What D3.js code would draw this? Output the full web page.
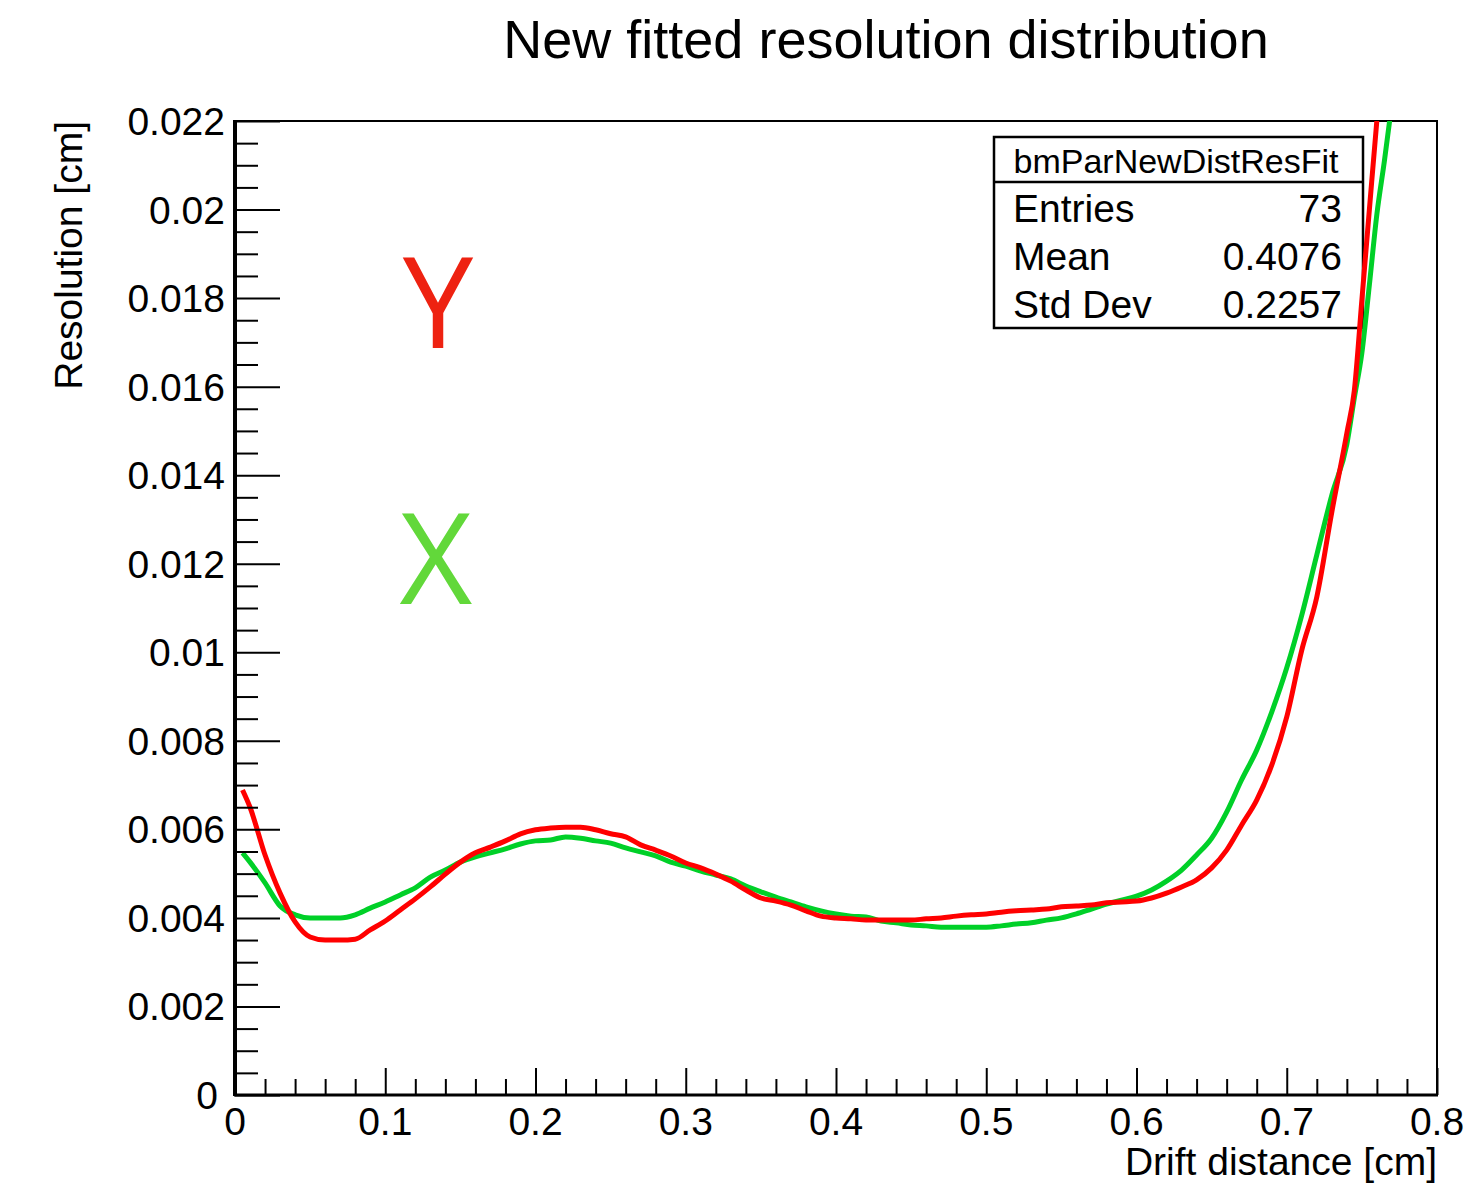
<!DOCTYPE html>
<html>
<head>
<meta charset="utf-8">
<script src="https://cdn.jsdelivr.net/npm/d3@7"></script>
<style>
  html, body { margin: 0; padding: 0; background: #fff; }
  svg { display: block; }
  text { font-family: "Liberation Sans", Arial, Helvetica, sans-serif; fill: #000; }
</style>
</head>
<body>
<svg id="chart" width="1480" height="1183"></svg>
<script>
// Drift distance sample points [cm]
const distance = [0.005, 0.01, 0.02, 0.03, 0.04, 0.05, 0.06, 0.07, 0.08, 0.09,
  0.10, 0.11, 0.12, 0.13, 0.14, 0.15, 0.16, 0.17, 0.18, 0.19,
  0.20, 0.21, 0.22, 0.23, 0.24, 0.25, 0.26, 0.27, 0.28, 0.29,
  0.30, 0.31, 0.32, 0.33, 0.34, 0.35, 0.36, 0.37, 0.38, 0.39,
  0.40, 0.41, 0.42, 0.43, 0.44, 0.45, 0.46, 0.47, 0.48, 0.49,
  0.50, 0.51, 0.52, 0.53, 0.54, 0.55, 0.56, 0.57, 0.58, 0.59,
  0.60, 0.61, 0.62, 0.63, 0.64, 0.65, 0.66, 0.67, 0.68, 0.69,
  0.70, 0.71, 0.72, 0.73, 0.74, 0.745, 0.75, 0.755, 0.76, 0.765, 0.77];

// Fitted resolution, Y view [cm]
const resolutionY = [0.00689, 0.00650, 0.00542, 0.00456, 0.00391, 0.00357, 0.00350, 0.00350, 0.00352, 0.00373,
  0.00393, 0.00418, 0.00443, 0.00470, 0.00499, 0.00526, 0.00547, 0.00560, 0.00574, 0.00590,
  0.00599, 0.00603, 0.00605, 0.00605, 0.00599, 0.00590, 0.00583, 0.00565, 0.00553, 0.00540,
  0.00524, 0.00513, 0.00499, 0.00483, 0.00463, 0.00445, 0.00438, 0.00429, 0.00416, 0.00404,
  0.00400, 0.00398, 0.00395, 0.00395, 0.00395, 0.00395, 0.00398, 0.00400, 0.00404, 0.00407,
  0.00409, 0.00413, 0.00416, 0.00418, 0.00420, 0.00425, 0.00427, 0.00429, 0.00434, 0.00436,
  0.00438, 0.00445, 0.00456, 0.00470, 0.00486, 0.00513, 0.00553, 0.00610, 0.00666, 0.00745,
  0.00854, 0.01005, 0.01125, 0.01317, 0.01495, 0.01592, 0.01796, 0.02000, 0.02202, 0.02380, 0.02560];

// Fitted resolution, X view [cm]
const resolutionX = [0.00547, 0.00526, 0.00479, 0.00427, 0.00407, 0.00400, 0.00400, 0.00400, 0.00407, 0.00422,
  0.00436, 0.00452, 0.00468, 0.00492, 0.00508, 0.00526, 0.00538, 0.00547, 0.00556, 0.00567,
  0.00574, 0.00576, 0.00583, 0.00580, 0.00574, 0.00569, 0.00558, 0.00549, 0.00540, 0.00526,
  0.00517, 0.00506, 0.00497, 0.00488, 0.00472, 0.00459, 0.00447, 0.00436, 0.00425, 0.00416,
  0.00409, 0.00404, 0.00402, 0.00393, 0.00389, 0.00384, 0.00382, 0.00379, 0.00379, 0.00379,
  0.00379, 0.00382, 0.00386, 0.00389, 0.00395, 0.00400, 0.00409, 0.00420, 0.00431, 0.00440,
  0.00449, 0.00463, 0.00483, 0.00508, 0.00542, 0.00580, 0.00639, 0.00712, 0.00779, 0.00865,
  0.00965, 0.01084, 0.01220, 0.01355, 0.01470, 0.01575, 0.01676, 0.01830, 0.01990, 0.02110, 0.02240];

const xTickValues = [0, 0.1, 0.2, 0.3, 0.4, 0.5, 0.6, 0.7, 0.8];
const xTickLabels = ["0", "0.1", "0.2", "0.3", "0.4", "0.5", "0.6", "0.7", "0.8"];
const yTickValues = [0, 0.002, 0.004, 0.006, 0.008, 0.01, 0.012, 0.014, 0.016, 0.018, 0.02, 0.022];
const yTickLabels = ["0", "0.002", "0.004", "0.006", "0.008", "0.01", "0.012", "0.014", "0.016", "0.018", "0.02", "0.022"];

const statsTitle = "bmParNewDistResFit";
const statsNames = ["Entries", "Mean", "Std Dev"];
const statsValues = ["73", "0.4076", "0.2257"];

const svg = d3.select("#chart");
const frame = { left: 235, right: 1437, top: 121, bottom: 1095 };

const x = d3.scaleLinear().domain([0, 0.8]).range([frame.left, frame.right]);
const y = d3.scaleLinear().domain([0, 0.022]).range([frame.bottom, frame.top]);

// Title
svg.append("text")
  .attr("x", 886).attr("y", 58)
  .attr("text-anchor", "middle")
  .style("font-size", "54px")
  .text("New fitted resolution distribution");

// Frame
svg.append("rect")
  .attr("x", frame.left).attr("y", frame.top)
  .attr("width", frame.right - frame.left)
  .attr("height", frame.bottom - frame.top)
  .attr("fill", "none").attr("stroke", "#000").attr("stroke-width", 2);

// Clip path for the curves
svg.append("clipPath").attr("id", "plotClip")
  .append("rect")
  .attr("x", frame.left).attr("y", frame.top)
  .attr("width", frame.right - frame.left)
  .attr("height", frame.bottom - frame.top);

// Statistics box
const box = svg.append("g");
box.append("rect")
  .attr("x", 994).attr("y", 137).attr("width", 369).attr("height", 191)
  .attr("fill", "#fff").attr("stroke", "#000").attr("stroke-width", 2.5);
box.append("line")
  .attr("x1", 994).attr("x2", 1363).attr("y1", 182).attr("y2", 182)
  .attr("stroke", "#000").attr("stroke-width", 2.5);
box.append("text")
  .attr("x", 1176).attr("y", 173).attr("text-anchor", "middle")
  .style("font-size", "34px")
  .text(statsTitle);
const rowBase = [222, 270, 318];
statsNames.forEach((name, i) => {
  box.append("text").attr("x", 1013).attr("y", rowBase[i])
    .style("font-size", "39px").text(name);
  box.append("text").attr("x", 1342).attr("y", rowBase[i])
    .attr("text-anchor", "end")
    .style("font-size", "39px").text(statsValues[i]);
});

// Curves
const line = d3.line()
  .x((d, i) => x(distance[i]))
  .y(d => y(d))
  .curve(d3.curveMonotoneX);

const curves = svg.append("g").attr("clip-path", "url(#plotClip)");
curves.append("path")
  .datum(resolutionX)
  .attr("d", line)
  .attr("fill", "none")
  .attr("stroke", "rgb(0,208,40)")
  .attr("stroke-width", 5);
curves.append("path")
  .datum(resolutionY)
  .attr("d", line)
  .attr("fill", "none")
  .attr("stroke", "rgb(255,0,0)")
  .attr("stroke-width", 5);

// Y axis: major and minor ticks
const yMinor = d3.range(0, 0.02201, 0.0005).filter(v => Math.abs(v / 0.002 - Math.round(v / 0.002)) > 1e-6);
const yMinorAxis = d3.axisRight(y).tickValues(yMinor).tickSize(23).tickFormat("");
const yMajorAxis = d3.axisRight(y).tickValues(yTickValues).tickSize(45).tickFormat("");
[yMinorAxis, yMajorAxis].forEach(ax => {
  const g = svg.append("g").attr("transform", `translate(${frame.left},0)`).call(ax);
  g.select(".domain").remove();
  g.selectAll(".tick line").attr("stroke", "#000").attr("stroke-width", 2);
});
svg.append("line")
  .attr("x1", frame.left).attr("x2", frame.left)
  .attr("y1", frame.top - 1).attr("y2", frame.bottom + 1)
  .attr("stroke", "#000").attr("stroke-width", 4);

yTickValues.forEach((v, i) => {
  svg.append("text")
    .attr("x", v === 0 ? 218 : 225)
    .attr("y", y(v))
    .attr("dy", "0.36em")
    .attr("text-anchor", "end")
    .style("font-size", "39px")
    .text(yTickLabels[i]);
});

// X axis: major and minor ticks
const xMinor = d3.range(0, 0.8001, 0.02).filter(v => Math.abs(v / 0.1 - Math.round(v / 0.1)) > 1e-6);
const xMinorAxis = d3.axisTop(x).tickValues(xMinor).tickSize(16).tickFormat("");
const xMajorAxis = d3.axisTop(x).tickValues(xTickValues).tickSize(27).tickFormat("");
[xMinorAxis, xMajorAxis].forEach(ax => {
  const g = svg.append("g").attr("transform", `translate(0,${frame.bottom})`).call(ax);
  g.select(".domain").remove();
  g.selectAll(".tick line").attr("stroke", "#000").attr("stroke-width", 2);
});
svg.append("line")
  .attr("x1", frame.left - 1).attr("x2", frame.right + 1)
  .attr("y1", frame.bottom).attr("y2", frame.bottom)
  .attr("stroke", "#000").attr("stroke-width", 3);

xTickValues.forEach((v, i) => {
  svg.append("text")
    .attr("x", x(v))
    .attr("y", 1135)
    .attr("text-anchor", "middle")
    .style("font-size", "39px")
    .text(xTickLabels[i]);
});

// Axis titles
svg.append("text")
  .attr("x", frame.right).attr("y", 1175)
  .attr("text-anchor", "end")
  .style("font-size", "39px")
  .text("Drift distance [cm]");
svg.append("text")
  .attr("transform", `translate(82,${frame.top}) rotate(-90)`)
  .attr("text-anchor", "end")
  .style("font-size", "39px")
  .text("Resolution [cm]");

// View markers
svg.append("text")
  .attr("x", 438).attr("y", 348)
  .attr("text-anchor", "middle")
  .style("font-family", "'Open Sans', sans-serif")
  .style("font-size", "126px")
  .style("fill", "rgb(238,34,17)")
  .text("Y");
svg.append("text")
  .attr("x", 436).attr("y", 604)
  .attr("text-anchor", "middle")
  .style("font-family", "'Open Sans', sans-serif")
  .style("font-size", "126px")
  .style("fill", "rgb(98,216,58)")
  .text("X");
</script>
</body>
</html>
